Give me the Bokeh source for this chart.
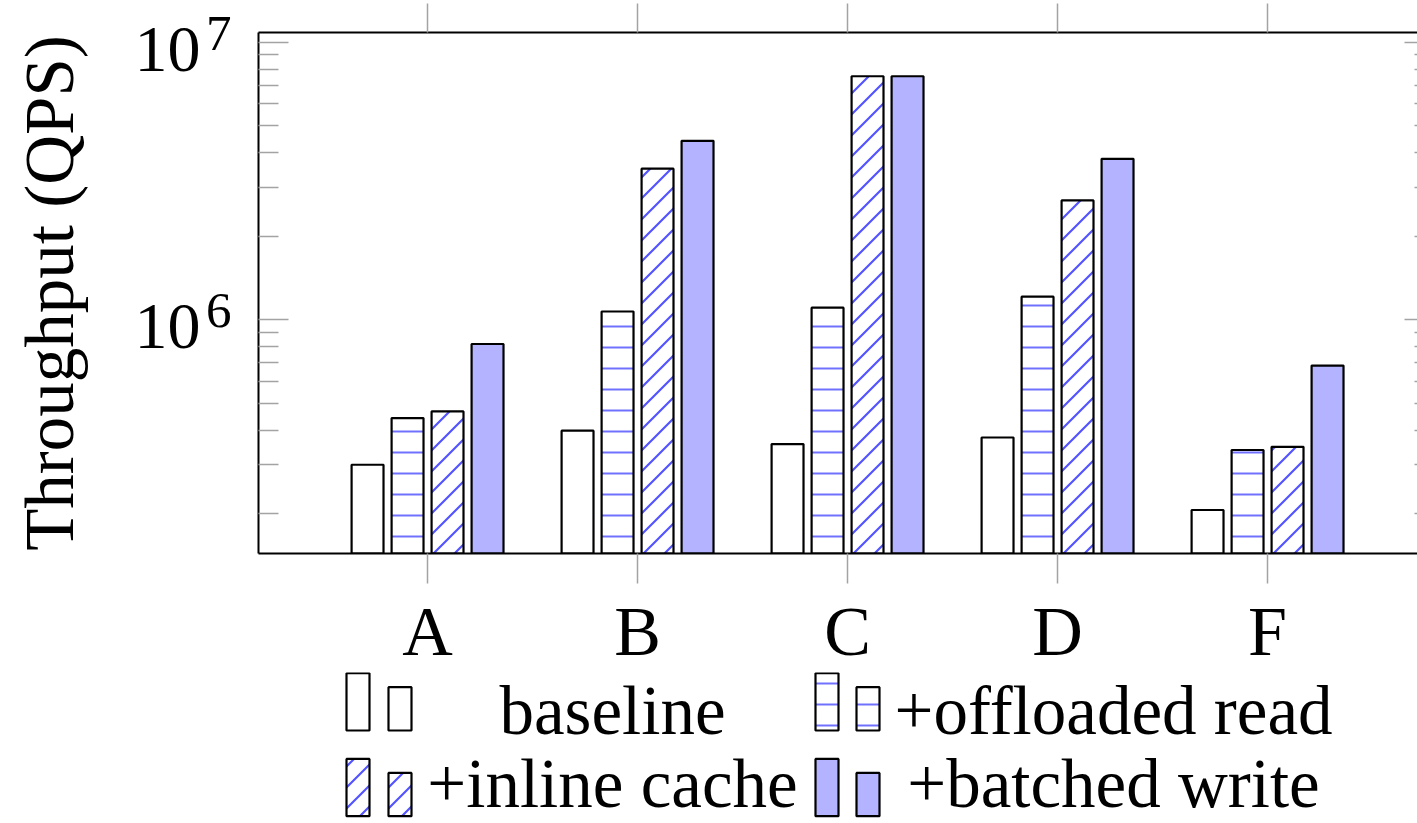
import math
import base64
from bokeh.plotting import figure
from bokeh.models import Range1d, FixedTicker, LinearAxis, LogAxis, LogScale, ImageURLTexture
from bokeh.layouts import column
from bokeh.core.properties import value
from bokeh.embed import file_html
from bokeh.resources import INLINE

# ---------------- data ----------------
categories = ["A", "B", "C", "D", "F"]
series_names = ["baseline", "+offloaded read", "+inline cache", "+batched write"]
baseline = [3.0e5, 3.98e5, 3.56e5, 3.76e5, 2.06e5]
offloaded_read = [4.42e5, 1.07e6, 1.105e6, 1.21e6, 3.39e5]
inline_cache = [4.67e5, 3.50e6, 7.54e6, 2.69e6, 3.48e5]
batched_write = [8.17e5, 4.41e6, 7.54e6, 3.80e6, 6.83e5]
y_major_ticks = [1e6, 1e7]
y_minor_ticks = [2e5, 3e5, 4e5, 5e5, 6e5, 7e5, 8e5, 9e5,
                 2e6, 3e6, 4e6, 5e6, 6e6, 7e6, 8e6, 9e6]
y_tick_base = ["10", "10"]
y_tick_exp = ["6", "7"]

# ---------------- style ----------------
FONT = "Liberation Serif"
TICK_GREY = "#a3a3a3"
HATCH_BLUE = "#4040ff"
FILL_BLUE = "#b3b3ff"

tile = ("<svg xmlns='http://www.w3.org/2000/svg' width='21' height='21'>"
        "<path d='M-6,6 L6,-6 M-1,22 L22,-1 M15,27 L27,15' stroke='#4040ff' "
        "stroke-opacity='0.9' stroke-width='2.2' fill='none'/></svg>")
diag_tex = ImageURLTexture(url="data:image/svg+xml;base64," + base64.b64encode(tile.encode()).decode(),
                           repetition="repeat")

styles = [
    dict(fill_color="white"),
    dict(fill_color="white", hatch_pattern="horizontal_line", hatch_color=HATCH_BLUE,
         hatch_alpha=0.75, hatch_scale=21, hatch_weight=2),
    dict(fill_color="white", hatch_pattern=value("diag45"), hatch_extra={"diag45": diag_tex}),
    dict(fill_color=FILL_BLUE),
]

X_LO, X_HI = -0.805, 4.714
Y_LO, Y_HI = 1.436e5, 1.084e7
BAR_W = 0.152
OFFSETS = [-0.2857, -0.0952, 0.0952, 0.2857]

W = 1417
PAGE_H = 823
H1 = 672
FRAME_LEFT = 258
DECADE_PX = 277.3
# small vertical nudges of the "10" and the exponent relative to their tick
F_TEN = 10 ** (7 / DECADE_PX)
F_SUP = 10 ** (-9 / DECADE_PX)

p = figure(width=W, height=H1, title=None,
           x_range=Range1d(X_LO, X_HI), y_range=Range1d(Y_LO, Y_HI),
           y_axis_type="log", output_backend="svg", toolbar_location=None,
           min_border_left=FRAME_LEFT, min_border_right=0, min_border_top=32,
           min_border_bottom=H1 - 553)
p.extra_y_ranges = {"sup": Range1d(Y_LO * F_SUP, Y_HI * F_SUP),
                    "ten": Range1d(Y_LO * F_TEN, Y_HI * F_TEN)}
p.extra_y_scales = {"sup": LogScale(), "ten": LogScale()}
p.grid.visible = False
p.outline_line_color = None
p.background_fill_color = "white"

all_series = [baseline, offloaded_read, inline_cache, batched_write]
for vals, off, st in zip(all_series, OFFSETS, styles):
    xs = [i + off for i in range(len(categories))]
    p.vbar(x=xs, top=vals, bottom=Y_LO * 0.5, width=BAR_W,
           line_color="black", line_width=2.2, **st)

# bottom axis
xa = p.xaxis[0]
xa.ticker = FixedTicker(ticks=list(range(len(categories))))
xa.major_label_overrides = {i: c for i, c in enumerate(categories)}
xa.major_tick_in = 0
xa.major_tick_out = 30
xa.major_tick_line_color = TICK_GREY
xa.major_tick_line_width = 1.5
xa.minor_tick_line_color = None
xa.axis_line_color = "black"
xa.axis_line_width = 2
xa.major_label_text_font = FONT
xa.major_label_text_font_size = "70px"
xa.major_label_text_color = "black"
xa.major_label_standoff = 9

# left axis: ticks only
ya = p.yaxis[0]
ya.ticker = FixedTicker(ticks=y_major_ticks, minor_ticks=y_minor_ticks)
ya.major_tick_in = 30
ya.major_tick_out = 0
ya.minor_tick_in = 20
ya.minor_tick_out = 0
ya.major_tick_line_color = TICK_GREY
ya.minor_tick_line_color = TICK_GREY
ya.major_tick_line_width = 1.5
ya.minor_tick_line_width = 1.5
ya.axis_line_color = "black"
ya.axis_line_width = 2
ya.major_label_overrides = {v: "" for v in y_major_ticks}
ya.major_label_text_font_size = "0px"
ya.major_label_standoff = 0

# exponent labels (closest to the frame)
sup_axis = LogAxis(y_range_name="sup", ticker=FixedTicker(ticks=y_major_ticks),
                   major_label_overrides=dict(zip(y_major_ticks, y_tick_exp)),
                   major_tick_in=0, major_tick_out=0, minor_tick_line_color=None,
                   major_tick_line_color=None, axis_line_color=None,
                   major_label_text_font=FONT, major_label_text_font_size="51px",
                   major_label_text_color="black", major_label_standoff=27)
p.add_layout(sup_axis, "left")

# base "10" labels + axis title
ten_axis = LogAxis(y_range_name="ten", ticker=FixedTicker(ticks=y_major_ticks),
                   major_label_overrides=dict(zip(y_major_ticks, y_tick_base)),
                   major_tick_in=0, major_tick_out=0, minor_tick_line_color=None,
                   major_tick_line_color=None, axis_line_color=None,
                   major_label_text_font=FONT, major_label_text_font_size="66px",
                   major_label_text_color="black", major_label_standoff=2,
                   axis_label="Throughput (QPS)", axis_label_text_font=FONT,
                   axis_label_text_font_size="69px", axis_label_text_font_style="normal",
                   axis_label_text_color="black", axis_label_standoff=44)
p.add_layout(ten_axis, "left")

# top axis (mirrored outward ticks)
top = LinearAxis(ticker=FixedTicker(ticks=list(range(len(categories)))),
                 major_tick_in=0, major_tick_out=29,
                 major_tick_line_color=TICK_GREY, major_tick_line_width=1.5,
                 minor_tick_line_color=None,
                 axis_line_color="black", axis_line_width=2,
                 major_label_text_font_size="0px", major_label_text_color=None,
                 major_label_standoff=0)
p.add_layout(top, "above")

# right axis (ticks inside; frame edge lies beyond the picture)
right = LogAxis(ticker=FixedTicker(ticks=y_major_ticks, minor_ticks=y_minor_ticks),
                major_tick_in=13, major_tick_out=0, minor_tick_in=3, minor_tick_out=0,
                major_tick_line_color=TICK_GREY, minor_tick_line_color=TICK_GREY,
                major_tick_line_width=1.5, minor_tick_line_width=1.5,
                axis_line_color=None,
                major_label_text_font_size="0px", major_label_text_color=None,
                major_label_standoff=0)
p.add_layout(right, "right")

# ---------------- legend ----------------
H2 = PAGE_H - H1
leg = figure(width=W, height=H2, title=None, x_range=Range1d(FRAME_LEFT, W), y_range=Range1d(0, H2),
             output_backend="svg", toolbar_location=None, min_border=0, min_border_left=FRAME_LEFT,
             x_axis_location=None, y_axis_location=None)
leg.grid.visible = False
leg.outline_line_color = None


def fy(py):
    return PAGE_H - py


LEG_FS = 69
col_rects = [(346, 369, 388, 411), (815, 838, 856, 879)]
col_text_x = [612, 1113]
row_bottom = [730, 815.7]
row_text_base = [733.3, 807]
BIG_H, SMALL_H = 57.3, 43.3
MID_SHIFT = 0.3375 * LEG_FS  # baseline -> middle of the text box

entries = [(0, 0), (0, 1), (1, 0), (1, 1)]  # (row, col) for each series
for (row, col), name, st in zip(entries, series_names, styles):
    bl, br, sl, sr = col_rects[col]
    b = fy(row_bottom[row])
    leg.quad(left=[bl, sl], right=[br, sr], bottom=[b, b], top=[b + BIG_H, b + SMALL_H],
             line_color="black", line_width=2.2, **st)
    leg.text(x=[col_text_x[col]], y=[fy(row_text_base[row] - MID_SHIFT)], text=[name],
             text_align=value("center"), text_baseline=value("middle"),
             text_font=value(FONT), text_font_size=value(f"{LEG_FS}px"), text_color="black")

layout = column(p, leg)
open("out.html", "w").write(file_html(layout, INLINE))
